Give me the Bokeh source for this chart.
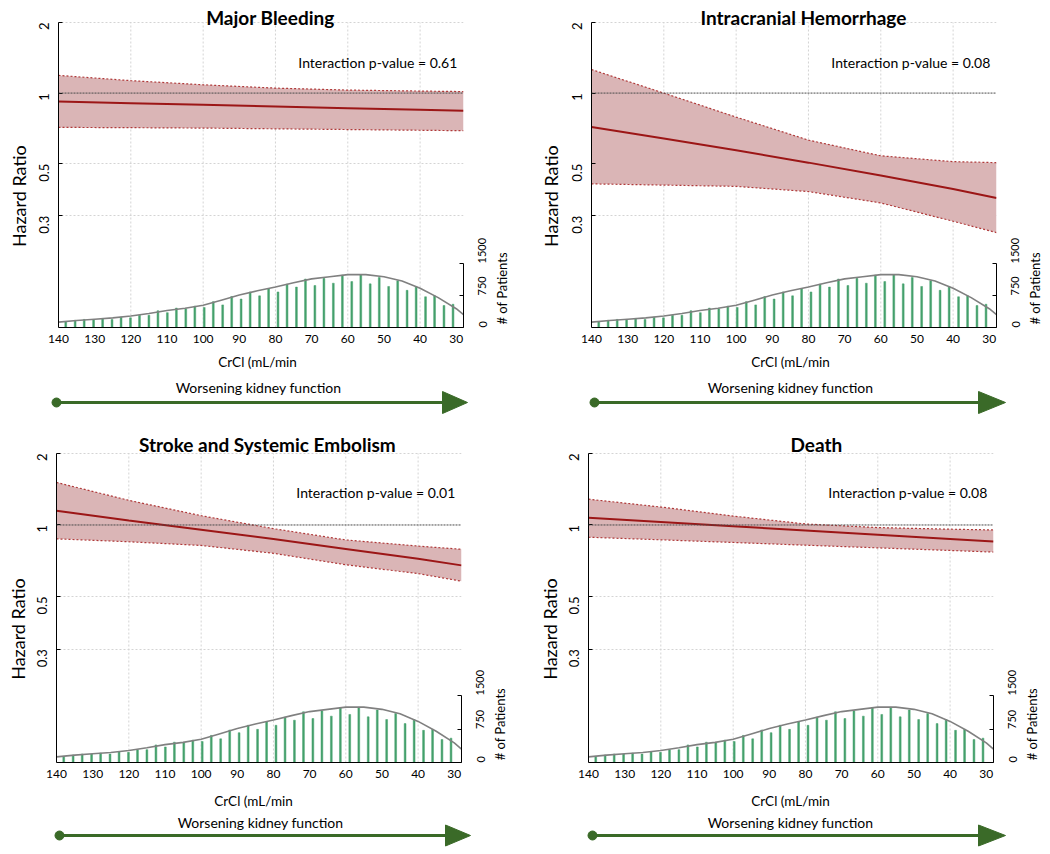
import math
from bokeh.plotting import figure
from bokeh.models import Range1d, LinearScale, LinearAxis, FixedTicker, Label, Span
from bokeh.layouts import column, row
from bokeh.embed import file_html
from bokeh.resources import INLINE
from bokeh.core.properties import value

FONT = "Lato"

# ---------------- data ----------------
x_ticks = [140, 130, 120, 110, 100, 90, 80, 70, 60, 50, 40, 30]
x_grid = [120, 100, 80, 60, 40]
hr_ticks = [0.3, 0.5, 1, 2]
pat_ticks = [0, 750, 1500]

# CrCl grid where the hazard-ratio curves were read
hr_x = [140, 120, 100, 80, 60, 40, 28]

titles = ["Major Bleeding", "Intracranial Hemorrhage",
          "Stroke and Systemic Embolism", "Death"]
pvals = ["Interaction p-value = 0.61", "Interaction p-value = 0.08",
         "Interaction p-value = 0.01", "Interaction p-value = 0.08"]

mb_hr = [0.921, 0.906, 0.891, 0.877, 0.862, 0.848, 0.840]
mb_lo = [0.714, 0.712, 0.709, 0.704, 0.699, 0.694, 0.691]
mb_hi = [1.19, 1.13, 1.085, 1.05, 1.03, 1.02, 1.015]

ich_hr = [0.717, 0.64, 0.57, 0.505, 0.445, 0.39, 0.357]
ich_lo = [0.41, 0.405, 0.40, 0.38, 0.34, 0.284, 0.254]
ich_hi = [1.26, 1.0, 0.79, 0.63, 0.54, 0.51, 0.505]

sse_hr = [1.148, 1.045, 0.955, 0.872, 0.792, 0.72, 0.676]
sse_lo = [0.874, 0.85, 0.82, 0.76, 0.68, 0.624, 0.58]
sse_hi = [1.51, 1.27, 1.094, 0.965, 0.865, 0.815, 0.79]

death_hr = [1.073, 1.030, 0.988, 0.948, 0.910, 0.873, 0.852]
death_lo = [0.888, 0.866, 0.844, 0.822, 0.801, 0.781, 0.769]
death_hi = [1.284, 1.19, 1.09, 1.01, 0.975, 0.96, 0.953]

# patient histogram (CrCl bin centres and counts)
bar_x = [138.0, 135.4, 132.9, 130.3, 127.8, 125.2, 122.7, 120.1, 117.6, 115.0,
         112.5, 109.9, 107.4, 104.8, 102.3, 99.7, 97.2, 94.6, 92.1, 89.5,
         87.0, 84.4, 81.9, 79.3, 76.8, 74.2, 71.7, 69.1, 66.6, 64.0,
         61.5, 58.9, 56.4, 53.8, 51.3, 48.7, 46.2, 43.6, 41.1, 38.5,
         36.0, 33.4, 30.9]
bar_n = [136, 167, 189, 189, 212, 189, 242, 227, 288, 288,
         394, 348, 455, 439, 500, 470, 606, 530, 727, 667,
         833, 742, 909, 833, 1015, 947, 1136, 985, 1152, 1038,
         1227, 1076, 1235, 1023, 1174, 962, 1098, 871, 962, 720,
         742, 515, 545]

# smoothed density outline
curve_x = [140, 135, 130, 125, 120, 115, 110, 105, 100, 95, 90, 85, 80,
           75, 70, 65, 60, 55, 50, 45, 40, 35, 30, 28]
curve_n = [125, 165, 195, 225, 270, 330, 400, 450, 520, 640, 760, 860, 950,
           1050, 1140, 1190, 1240, 1240, 1190, 1090, 920, 700, 440, 300]

# ---------------- styles ----------------
BAND = "#dab5b6"
CI_LINE = "#b03a3a"
HR_LINE = "#9c1616"
REF = "#4a4a4a"
BAR = "#45a06c"
CURVE = "#808080"
ARROW = "#3a6a28"
GRIDC = "#d4d4d4"

COL_W = 525
FRAME_W = 407
LEFT_B = 25
RIGHT_B = 31
MAIN_W = LEFT_B + FRAME_W + RIGHT_B


def panel(title, pval, hr, lo, hi, h, y_top, pat_top,
          title_x, title_y, pval_y):
    p = figure(width=MAIN_W, height=h, x_range=Range1d(140, 28),
               y_range=Range1d(0.1, y_top), y_axis_type="log",
               output_backend="svg", toolbar_location=None,
               min_border_left=LEFT_B, min_border_right=RIGHT_B,
               min_border_top=0, min_border_bottom=24)
    p.outline_line_color = None
    p.background_fill_color = "white"
    p.extra_y_ranges = {"pat": Range1d(0, pat_top)}
    p.extra_y_scales = {"pat": LinearScale()}

    # x axis
    xa = p.xaxis[0]
    xa.ticker = FixedTicker(ticks=x_ticks)
    xa.major_tick_in = 0
    xa.major_tick_out = 0
    xa.minor_tick_line_color = None
    xa.major_label_standoff = 7
    xa.major_label_text_font = FONT
    xa.major_label_text_font_size = "12px"
    xa.major_label_text_color = "black"
    xa.axis_line_color = "black"

    # y axis (hazard ratio)
    ya = p.yaxis[0]
    ya.ticker = FixedTicker(ticks=hr_ticks)
    ya.major_label_overrides = {0.3: "0.3", 0.5: "0.5", 1: "1", 2: "2"}
    ya.major_label_orientation = math.pi / 2
    ya.bounds = (0.1, 2)
    ya.major_tick_in = 4
    ya.major_tick_out = 0
    ya.minor_tick_line_color = None
    ya.major_label_standoff = 14
    ya.major_label_text_font = FONT
    ya.major_label_text_font_size = "13px"
    ya.major_label_text_color = "black"
    ya.axis_line_color = "black"

    # right axis (patients)
    ra = LinearAxis(y_range_name="pat", ticker=FixedTicker(ticks=pat_ticks),
                    bounds=(0, 1500))
    ra.major_label_orientation = math.pi / 2
    ra.major_tick_in = 4
    ra.major_tick_out = 0
    ra.minor_tick_line_color = None
    ra.major_label_standoff = 19
    ra.major_label_text_font = FONT
    ra.major_label_text_font_size = "11px"
    ra.major_label_text_color = "black"
    ra.axis_line_color = "black"
    p.add_layout(ra, "right")

    # grids
    p.xgrid.visible = False
    p.ygrid[0].ticker = FixedTicker(ticks=[0.3, 0.5, 2])
    p.ygrid.grid_line_color = GRIDC
    p.ygrid.grid_line_dash = "2 2"
    p.segment(x0=x_grid, y0=[0.1] * len(x_grid), x1=x_grid,
              y1=[2] * len(x_grid), line_color=GRIDC, line_dash="2 2",
              line_width=1)

    # histogram
    p.vbar(x=bar_x, top=bar_n, bottom=0, width=0.5, y_range_name="pat",
           fill_color=BAR, line_color=BAR, line_width=0.5)
    p.line(curve_x, curve_n, y_range_name="pat", line_color=CURVE,
           line_width=1.6)

    # hazard ratio band and line
    p.varea(x=hr_x, y1=lo, y2=hi, fill_color=BAND, fill_alpha=1.0)
    p.line(hr_x, hi, line_color=CI_LINE, line_width=1.2, line_dash="2 2")
    p.line(hr_x, lo, line_color=CI_LINE, line_width=1.2, line_dash="2 2")
    p.add_layout(Span(location=1, dimension="width", line_color=REF,
                      line_width=1, line_dash="2 1"))
    p.line(hr_x, hr, line_color=HR_LINE, line_width=2)

    p.add_layout(Label(x=title_x, y=title_y, text=title, text_align="center",
                       text_baseline="middle", text_font=FONT,
                       text_font_size="19px", text_font_style="bold",
                       text_color="black"))
    p.add_layout(Label(x=29.7, y=pval_y, text=pval, text_align="right",
                       text_baseline="middle", text_font=FONT,
                       text_font_size="14px", text_color="black"))
    return p


def side_fig(w, h, label, lx, ly, size):
    s = figure(width=w, height=h, x_range=Range1d(0, w), y_range=Range1d(h, 0),
               output_backend="svg", toolbar_location=None,
               x_axis_location=None, y_axis_location=None, min_border=0)
    s.outline_line_color = None
    s.grid.visible = False
    s.text(x=[lx], y=[ly], text=[label], angle=math.pi / 2,
           text_align="center", text_baseline="middle",
           text_font=value(FONT), text_font_size=size, text_color="black")
    return s


def arrow_fig(w, h, cx, x_end, tip, xlab_x, xlab_y, text_x, text_y,
              line_y, half):
    a = figure(width=w, height=h, x_range=Range1d(0, w), y_range=Range1d(h, 0),
               output_backend="svg", toolbar_location=None,
               x_axis_location=None, y_axis_location=None, min_border=0)
    a.outline_line_color = None
    a.grid.visible = False
    a.text(x=[xlab_x], y=[xlab_y], text=["CrCl (mL/min"],
           text_align="center", text_baseline="middle",
           text_font=value(FONT), text_font_size="13.5px", text_color="black")
    a.line([cx, x_end], [line_y, line_y], line_color=ARROW, line_width=3)
    a.scatter([cx], [line_y], size=9, marker="circle", fill_color=ARROW,
              line_color=ARROW)
    a.patch([x_end, x_end, tip], [line_y - half, line_y + half, line_y],
            fill_color=ARROW, line_color=ARROW)
    a.text(x=[text_x], y=[text_y], text=["Worsening kidney function"],
           text_align="center", text_baseline="middle",
           text_font=value(FONT), text_font_size="14px", text_color="black")
    return a


def block(p, left_w, hr_label_x, hr_label_y, pat_label_y, a):
    left = side_fig(left_w, p.height, "Hazard Ratio", hr_label_x, hr_label_y,
                    "18px")
    right = side_fig(COL_W - left_w - p.width, p.height, "# of Patients",
                     7, pat_label_y, "13px")
    return column(row(left, p, right), a)


p1 = panel(titles[0], pvals[0], mb_hr, mb_lo, mb_hi, 351,
           2.483, 7664, 81.4, 2.10, 1.35)
p2 = panel(titles[1], pvals[1], ich_hr, ich_lo, ich_hi, 351,
           2.483, 7664, 81.4, 2.10, 1.35)
p3 = panel(titles[2], pvals[2], sse_hr, sse_lo, sse_hi, 361,
           2.623, 7545, 81.7, 2.18, 1.37)
p4 = panel(titles[3], pvals[3], death_hr, death_lo, death_hi, 361,
           2.623, 7545, 77.0, 2.18, 1.37)

a1 = arrow_fig(COL_W, 74, 56, 442, 467, 257, 10, 258, 36, 51, 11)
a2 = arrow_fig(COL_W, 74, 69, 453, 480, 265, 10, 265, 36, 51, 11)
a3 = arrow_fig(COL_W, 67, 59, 445, 470, 253, 14, 260, 36, 49, 10.5)
a4 = arrow_fig(COL_W, 67, 67, 453, 480, 265, 14, 265, 36, 49, 10.5)

layout = column(row(block(p1, 31, 18, 210, 309, a1),
                    block(p2, 39, 25, 210, 309, a2)),
                row(block(p3, 29, 17.5, 218, 320, a3),
                    block(p4, 36, 24.5, 218, 320, a4)))

open("out.html", "w").write(file_html(layout, INLINE))
